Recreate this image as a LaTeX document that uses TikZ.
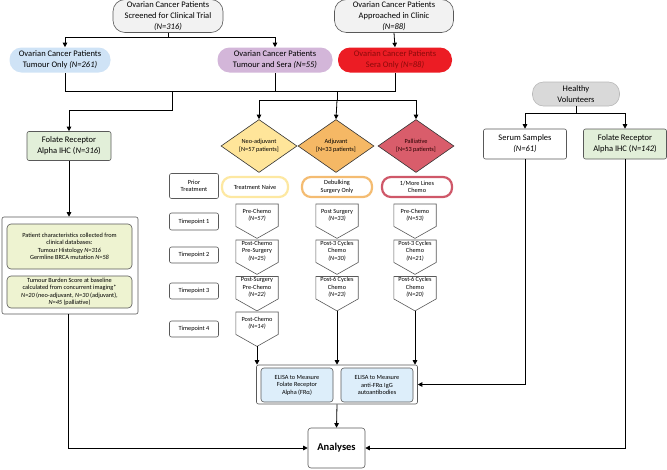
\documentclass[tikz,border=0pt]{standalone}
\usepackage{fontspec}
\setmainfont{Carlito}
\usetikzlibrary{shapes.geometric,arrows.meta,calc}
\definecolor{bord}{HTML}{595959}
\definecolor{topfill}{HTML}{F2F2F2}
\definecolor{tumblue}{HTML}{CFE3F6}
\definecolor{tsepurple}{HTML}{D3B6D9}
\definecolor{serared}{HTML}{EC1C24}
\definecolor{seratext}{HTML}{8B0A0A}
\definecolor{firgreen}{HTML}{E2EFD9}
\definecolor{neoyel}{HTML}{FFE59A}
\definecolor{adjor}{HTML}{F5B865}
\definecolor{palred}{HTML}{D95D6B}
\definecolor{naivebd}{HTML}{FDE8A2}
\definecolor{debbd}{HTML}{F4BC72}
\definecolor{morebd}{HTML}{CF5869}
\definecolor{elblue}{HTML}{DDEEFA}
\definecolor{hvgray}{HTML}{D9D9D9}
\definecolor{limefill}{HTML}{EEF3D1}
\begin{document}
\begin{tikzpicture}[x=1pt,y=1pt,
  every node/.style={align=center, inner sep=0pt},
  big/.style={font=\fontsize{8.5}{10.8}\selectfont},
  sm/.style={font=\fontsize{6.3}{7.5}\selectfont},
  pill/.style={big, rounded corners=12pt, line width=0.6pt},
  conn/.style={line width=0.8pt, black},
  arr/.style={conn, -{Triangle[width=4.5pt,length=4.5pt]}},
  dia/.style={diamond, draw=black!80, line width=0.6pt, sm, minimum width=76pt, minimum height=53pt},
  prior/.style={sm, rounded corners=9pt, line width=2.2pt, fill=white, minimum height=20pt},
  lab/.style={sm, draw=bord, rounded corners=2pt, line width=0.6pt, minimum width=49pt},
  pent/.style={sm, minimum width=42pt, minimum height=22pt, anchor=north},
  pentline/.style={draw=bord, line width=0.6pt},
  elisa/.style={sm, draw=bord, rounded corners=3pt, fill=elblue, minimum width=72pt, minimum height=34pt, line width=0.6pt},
  rbox/.style={big, draw=bord, rounded corners=2pt, line width=0.6pt, minimum width=83pt, minimum height=30pt},
  lime/.style={sm, draw=bord, rounded corners=4pt, fill=limefill, line width=0.6pt, minimum width=125pt},
]
\useasboundingbox (0,0) rectangle (667,-469);

% top row
\node[pill, draw=bord, fill=topfill, minimum width=110pt, minimum height=33pt] (scr) at (168,-16)
  {Ovarian Cancer Patients\\Screened for Clinical Trial\\\textit{(N=316)}};
\node[pill, draw=bord, fill=topfill, minimum width=119pt, minimum height=33pt] (appr) at (394,-16)
  {Ovarian Cancer Patients\\Approached in Clinic\\\textit{(N=88)}};
\node[pill, fill=tumblue, minimum width=101pt, minimum height=25pt] (tum) at (60,-60)
  {Ovarian Cancer Patients\\Tumour Only \textit{(N=261)}};
\node[pill, fill=tsepurple, minimum width=115pt, minimum height=25pt] (tse) at (275,-60)
  {Ovarian Cancer Patients\\Tumour and Sera \textit{(N=55)}};
\node[pill, fill=serared, text=seratext, minimum width=114pt, minimum height=25pt] (sera) at (395,-60)
  {Ovarian Cancer Patients\\Sera Only \textit{(N=88)}};

\draw[arr] (scr.south) -- ++(0,-5) -| ([xshift=5pt]tum.north);
\draw[arr] (scr.south) -- ++(0,-5) -| (tse.north);
\draw[arr] (appr.south) -- (sera.north);

\coordinate (busA) at (172,-92);
\coordinate (busB) at (337,-92);
\coordinate (busC) at (337,-100);
\draw[conn] ([xshift=5pt]tum.south) -- ++(0,-19) -| (sera.south);
\draw[conn] (tse.south) -- (tse.south |- busA);

% left column
\node[big, draw=bord, fill=firgreen, rounded corners=2pt, line width=0.6pt, minimum width=84pt, minimum height=29pt] (fir) at (69,-146)
  {Folate Receptor\\Alpha IHC (\textit{N=316})};
\draw[arr] (busA) -- ++(0,-18) -| (fir.north);

\node[draw=bord, rounded corners=2pt, line width=0.6pt, minimum width=136pt, minimum height=97pt, fill=white] (pgrp) at (70,-265.5) {};
\node[lime, minimum height=45pt] (pb1) at (69.5,-246.5)
  {Patient characteristics collected from\\clinical databases:\\Tumour Histology \textit{N=316}\\Germline BRCA mutation \textit{N=58}};
\node[lime, minimum height=32pt] (pb2) at (69.5,-292)
  {Tumour Burden Score at baseline\\calculated from concurrent imaging*\\\textit{N=20} (neo-adjuvant, \textit{N=30} (adjuvant),\\\textit{N=45} (palliative)};
\draw[arr] (fir.south) -- (fir.south |- pgrp.north);

% diamonds
\node[dia, fill=neoyel] (neo) at (259,-146) {Neo-adjuvant\\{[}N=57 patients{]}};
\node[dia, fill=adjor] (adj) at (336,-146) {Adjuvant\\{[}N=33 patients{]}};
\node[dia, fill=palred, text=black!85!red] (pal) at (416,-146) {Palliative\\{[}N=53 patients{]}};
\draw[conn] (busB) -- (busC);
\draw[arr] (busC) -| (neo.north);
\draw[arr] (busC) -| (pal.north);
\draw[arr] (busC) -- (adj.north);

% prior treatment
\node[prior, draw=naivebd, minimum width=66pt] (naive) at (255,-187) {Treatment Naive};
\node[prior, draw=debbd, minimum width=70pt] (debulk) at (337,-187) {Debulking\\Surgery Only};
\node[prior, draw=morebd, minimum width=70pt] (more) at (417,-187) {1/More Lines\\Chemo};

% labels
\node[lab, minimum height=25pt] (prl) at (194,-186) {Prior\\Treatment};
\node[lab, minimum height=17pt] (tp1) at (194,-221.5) {Timepoint 1};
\node[lab, minimum height=16pt] (tp2) at (194,-255) {Timepoint 2};
\node[lab, minimum height=16pt] (tp3) at (194,-291) {Timepoint 3};
\node[lab, minimum height=16pt] (tp4) at (194,-329) {Timepoint 4};

% pentagons
\node[pent] (n1) at (257,-204) {Pre-Chemo\\\textit{(N=57)}};
\node[pent] (n2) at (257,-240) {Post-Chemo\\Pre-Surgery\\\textit{(N=25)}};
\node[pent] (n3) at (257,-276.5) {Post-Surgery\\Pre-Chemo\\\textit{(N=22)}};
\node[pent] (n4) at (257,-312) {Post-Chemo\\\textit{(N=14)}};
\node[pent] (a1) at (337,-204) {Post Surgery\\\textit{(N=33)}};
\node[pent] (a2) at (337,-240) {Post-3 Cycles\\Chemo\\\textit{(N=30)}};
\node[pent] (a3) at (337,-276.5) {Post-6 Cycles\\Chemo\\\textit{(N=23)}};
\node[pent] (q1) at (415,-204) {Pre-Chemo\\\textit{(N=53)}};
\node[pent] (q2) at (415,-240) {Post-3 Cycles\\Chemo\\\textit{(N=21)}};
\node[pent] (q3) at (415,-276.5) {Post-6 Cycles\\Chemo\\\textit{(N=20)}};
\foreach \n in {n1,n2,n3,n4,a1,a2,a3,q1,q2,q3}{
  \draw[pentline] (\n.north west) -- (\n.north east) -- (\n.south east)
    -- ([yshift=-12pt]\n.south) -- (\n.south west) -- cycle;
  \path ([yshift=-12pt]\n.south) coordinate (\n-tip);
}

% ELISA group
\node[draw=bord, rounded corners=2pt, line width=0.6pt, minimum width=161pt, minimum height=39pt, fill=white] (elgrp) at (337,-384.5) {};
\node[elisa] (el1) at (297,-385) {ELISA to Measure\\Folate Receptor\\Alpha (FRα)};
\node[elisa] (el2) at (377,-385) {ELISA to Measure\\anti-FRα IgG\\autoantibodies};
\draw[arr] (n4-tip) -- (n4-tip |- elgrp.north);
\draw[arr] (a3-tip) -- (a3-tip |- elgrp.north);
\draw[arr] (q3-tip) -- (q3-tip |- elgrp.north);

% Analyses
\node[draw=bord, rounded corners=3pt, line width=0.6pt, minimum width=57pt, minimum height=40pt, font=\fontsize{10.5}{12}\selectfont\bfseries] (ana) at (336.5,-448) {Analyses};
\draw[arr] (elgrp.south) -- (ana.north);
\draw[arr] ([xshift=-2pt]pgrp.south) |- (ana.west);

% healthy volunteers
\node[pill, draw=hvgray!85!black, fill=hvgray, rounded corners=11pt, minimum width=87pt, minimum height=24pt] (hv) at (576,-94) {Healthy\\Volunteers};
\node[rbox] (ser) at (525,-144) {Serum Samples\\\textit{(N=61)}};
\node[rbox, fill=firgreen] (fir2) at (625,-144) {Folate Receptor\\Alpha IHC (\textit{N=142})};
\draw[arr] (hv.south) -- ++(0,-7) -| (ser.north);
\draw[arr] (hv.south) -- ++(0,-7) -| (fir2.north);
\draw[arr] (ser.south) |- (elgrp.east);
\draw[arr] (fir2.south) |- (ana.east);
\end{tikzpicture}
\end{document}
